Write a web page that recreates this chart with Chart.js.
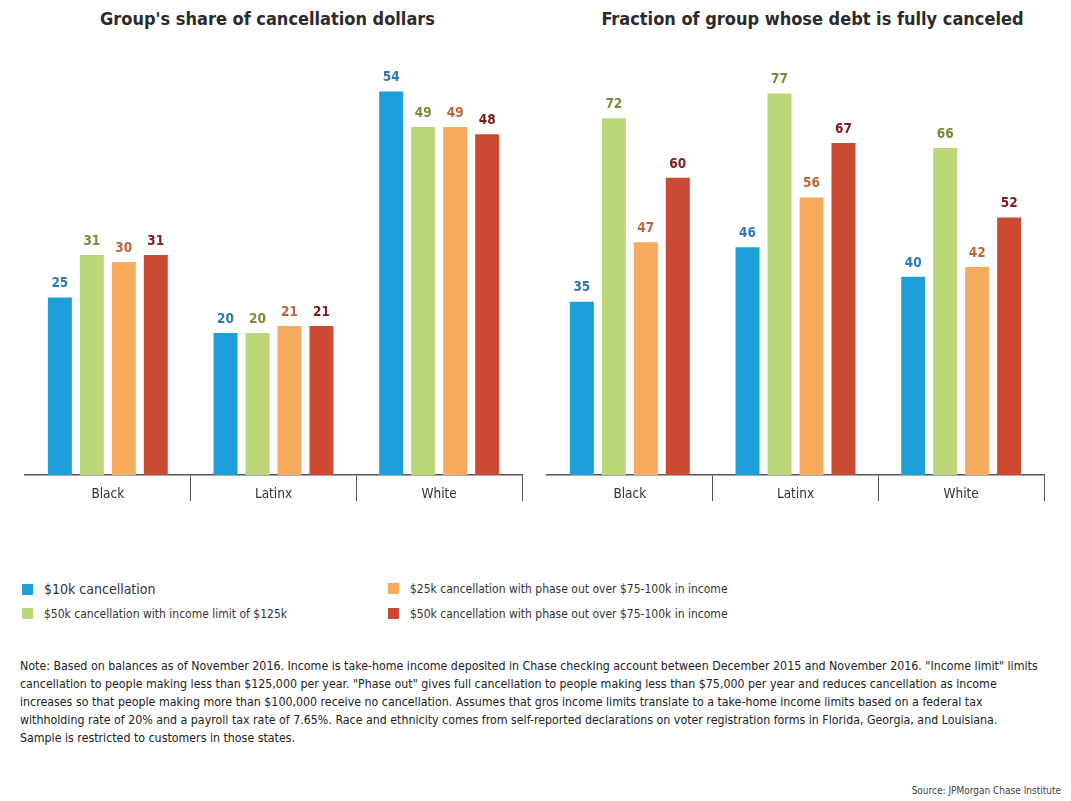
<!DOCTYPE html>
<html>
<head>
<meta charset="utf-8">
<script src="https://cdn.jsdelivr.net/npm/chart.js@4.4.0/dist/chart.umd.min.js"></script>
<style>
  body { margin: 0; background: #fff; width: 1071px; height: 801px; position: relative; overflow: hidden;
         font-family: "DejaVu Sans Condensed", "Liberation Sans Narrow", sans-serif; color: #222; }
  .title { position: absolute; top: 8px; font-weight: bold; font-size: 18px; color: #2b2b2b; white-space: nowrap; }
  .box { position: absolute; top: 0; height: 520px; }
  .legend { position: absolute; font-size: 12px; color: #333; white-space: nowrap; }
  .legend span { display: inline-block; width: 11px; height: 11px; margin-right: 11px; vertical-align: -1px; }
  .note { position: absolute; left: 20px; top: 657px; font-size: 12.3px; line-height: 18px; color: #222; white-space: nowrap; }
  .source { position: absolute; right: 10px; top: 785px; font-size: 10px; color: #444; }
</style>
</head>
<body>
<div class="title" style="left:0;width:535px;text-align:center;">Group's share of cancellation dollars</div>
<div class="title" style="left:545px;width:535px;text-align:center;">Fraction of group whose debt is fully canceled</div>
<div class="box" style="left:0;width:535px;"><canvas id="shareChart"></canvas></div>
<div class="box" style="left:535px;width:536px;"><canvas id="fractionChart"></canvas></div>

<div class="legend" style="left:22px;top:581px;font-size:14px;"><span style="background:#1f9fd9"></span>$10k cancellation</div>
<div class="legend" style="left:22px;top:607px;"><span style="background:#bcd77a"></span>$50k cancellation with income limit of $125k</div>
<div class="legend" style="left:388px;top:582px;"><span style="background:#f7ab5e"></span>$25k cancellation with phase out over $75-100k in income</div>
<div class="legend" style="left:388px;top:607px;"><span style="background:#cc4a32"></span>$50k cancellation with phase out over $75-100k in income</div>

<div class="note">
Note: Based on balances as of November 2016. Income is take-home income deposited in Chase checking account between December 2015 and November 2016. "Income limit" limits<br>
cancellation to people making less than $125,000 per year. "Phase out" gives full cancellation to people making less than $75,000 per year and reduces cancellation as income<br>
increases so that people making more than $100,000 receive no cancellation. Assumes that gros income limits translate to a take-home income limits based on a federal tax<br>
withholding rate of 20% and a payroll tax rate of 7.65%. Race and ethnicity comes from self-reported declarations on voter registration forms in Florida, Georgia, and Louisiana.<br>
Sample is restricted to customers in those states.
</div>
<div class="source">Source: JPMorgan Chase Institute</div>

<script>
const groups = ["Black", "Latinx", "White"];
const seriesNames = [
  "$10k cancellation",
  "$50k cancellation with income limit of $125k",
  "$25k cancellation with phase out over $75-100k in income",
  "$50k cancellation with phase out over $75-100k in income",
];
const barColors = ["#1f9fd9", "#bcd77a", "#f7ab5e", "#cc4a32"];
const labelColors = ["#2f78b0", "#7b8a3a", "#c0653b", "#7a2020"];

// Group's share of cancellation dollars
const share10k = [25, 20, 54];
const share50kLimit = [31, 20, 49];
const share25kPhase = [30, 21, 49];
const share50kPhase = [31, 21, 48];

// Fraction of group whose debt is fully canceled
const frac10k = [35, 46, 40];
const frac50kLimit = [72, 77, 66];
const frac25kPhase = [47, 56, 42];
const frac50kPhase = [60, 67, 52];

// draws the value above each bar
const valueLabels = {
  id: "valueLabels",
  afterDatasetsDraw(chart) {
    const ctx = chart.ctx;
    ctx.save();
    ctx.font = "bold 13.5px 'DejaVu Sans Condensed', sans-serif";
    ctx.textAlign = "center";
    ctx.textBaseline = "bottom";
    chart.data.datasets.forEach((ds, i) => {
      ctx.fillStyle = labelColors[i];
      chart.getDatasetMeta(i).data.forEach((bar, j) => {
        ctx.fillText(ds.data[j], bar.x, bar.y - 7);
      });
    });
    ctx.restore();
  },
};

function makeChart(id, values, yMax, pad) {
  return new Chart(document.getElementById(id), {
    type: "bar",
    data: {
      labels: groups,
      datasets: values.map((v, i) => ({
        label: seriesNames[i],
        data: v,
        backgroundColor: barColors[i],
        categoryPercentage: 0.772,
        barPercentage: 0.75,
      })),
    },
    options: {
      responsive: true,
      maintainAspectRatio: false,
      animation: false,
      layout: { padding: pad },
      plugins: { legend: { display: false }, tooltip: { enabled: false } },
      scales: {
        x: {
          grid: {
            offset: true,
            drawOnChartArea: false,
            drawTicks: true,
            tickLength: 26,
            lineWidth: 1,
            color: (c) => (c.index === 0 || c.index === groups.length ? "rgba(0,0,0,0)" : "#555"),
          },
          border: { display: true, color: "#555", width: 1.5 },
          ticks: {
            padding: -15,
            color: "#333",
            font: { size: 13.5, family: "'DejaVu Sans Condensed', sans-serif" },
          },
          afterFit: (s) => { s.height = 45; },
        },
        y: { display: false, min: 0, max: yMax },
      },
    },
    plugins: [valueLabels],
  });
}

makeChart("shareChart", [share10k, share50kLimit, share25kPhase, share50kPhase], 60,
  { left: 25, right: 13, top: 49, bottom: 0 });
makeChart("fractionChart", [frac10k, frac50kLimit, frac25kPhase, frac50kPhase], 86,
  { left: 12, right: 27, top: 49, bottom: 0 });
</script>
</body>
</html>
